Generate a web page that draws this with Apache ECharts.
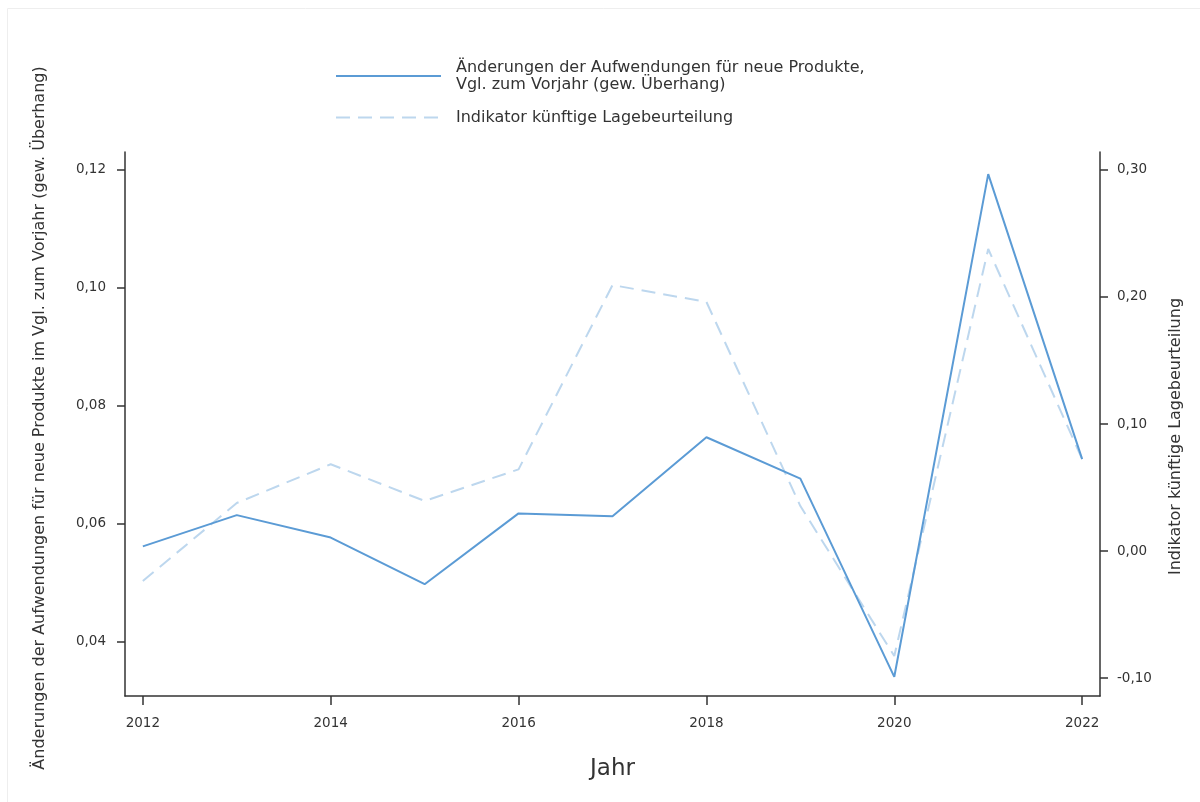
<!DOCTYPE html>
<html>
<head>
<meta charset="utf-8">
<script src="https://cdn.jsdelivr.net/npm/echarts@6/dist/echarts.min.js"></script>
<style>
html,body{margin:0;padding:0;background:#fff;}
#chart{width:1200px;height:802px;}
</style>
</head>
<body>
<div id="chart"></div>
<script>
const years = [2012, 2013, 2014, 2015, 2016, 2017, 2018, 2019, 2020, 2021, 2022];
const aufwendungen = [0.0562, 0.0615, 0.0577, 0.0498, 0.0618, 0.0613, 0.0747, 0.0677, 0.0341, 0.1193, 0.0710];
const indikator = [-0.0236, 0.0378, 0.0683, 0.0394, 0.0643, 0.2094, 0.1961, 0.0354, -0.0827, 0.2378, 0.0724];
const xTicks = [2012, 2014, 2016, 2018, 2020, 2022];
const leftTicks = [0.04, 0.06, 0.08, 0.10, 0.12];
const rightTicks = [-0.10, 0.00, 0.10, 0.20, 0.30];

const seriesNames = [
  'Änderungen der Aufwendungen für neue Produkte,\nVgl. zum Vorjahr (gew. Überhang)',
  'Indikator künftige Lagebeurteilung'
];
const leftName = 'Änderungen der Aufwendungen für neue Produkte im Vgl. zum Vorjahr (gew. Überhang)';
const rightName = 'Indikator künftige Lagebeurteilung';
const xName = 'Jahr';

const FONT = 'DejaVu Sans';
const TXT = '#333333';
const fmt = v => v.toFixed(2).replace('.', ',');

const chart = echarts.init(document.getElementById('chart'), null, {renderer: 'canvas'});
chart.setOption({
  animation: false,
  backgroundColor: '#ffffff',
  textStyle: {fontFamily: FONT, color: TXT},
  graphic: [
    {type: 'line', shape: {x1: 7.5, y1: 8.5, x2: 1200, y2: 8.5}, style: {stroke: '#eeeeee', lineWidth: 1}, silent: true},
    {type: 'line', shape: {x1: 7.5, y1: 8.5, x2: 7.5, y2: 802}, style: {stroke: '#eeeeee', lineWidth: 1}, silent: true}
  ],
  legend: {
    orient: 'vertical',
    left: 330,
    top: 54,
    itemWidth: 105,
    itemHeight: 14,
    itemGap: 16,
    itemStyle: {opacity: 0},
    textStyle: {fontFamily: FONT, fontSize: 16, color: TXT, lineHeight: 17, padding: [0, 0, 0, 10]},
    data: seriesNames
  },
  grid: {left: 125, right: 100, top: 152, bottom: 106, containLabel: false},
  xAxis: {
    type: 'value',
    min: 2011.81,
    max: 2022.19,
    name: xName,
    nameLocation: 'middle',
    nameGap: 62,
    nameTextStyle: {fontFamily: FONT, fontSize: 23, color: TXT},
    axisLine: {show: true, onZero: false, lineStyle: {color: '#333', width: 1.5}},
    axisTick: {show: true, length: 9, customValues: xTicks, lineStyle: {color: '#333', width: 1.5}},
    axisLabel: {customValues: xTicks, formatter: v => String(v), fontFamily: FONT, fontSize: 13.5, color: TXT, margin: 20},
    splitLine: {show: false}
  },
  yAxis: [
    {
      type: 'value',
      position: 'left',
      min: 0.030847,
      max: 0.12305,
      name: leftName,
      nameLocation: 'middle',
      nameRotate: 90,
      nameGap: 77,
      nameTextStyle: {fontFamily: FONT, fontSize: 16, color: TXT, padding: [0, 0, 0, 12]},
      axisLine: {show: true, onZero: false, lineStyle: {color: '#333', width: 1.5}},
      axisTick: {show: true, length: 8, customValues: leftTicks, lineStyle: {color: '#333', width: 1.5}},
      axisLabel: {customValues: leftTicks, formatter: fmt, fontFamily: FONT, fontSize: 13.5, color: TXT, margin: 19},
      splitLine: {show: false}
    },
    {
      type: 'value',
      position: 'right',
      min: -0.11417,
      max: 0.31417,
      name: rightName,
      nameLocation: 'middle',
      nameRotate: 90,
      nameGap: 68,
      nameTextStyle: {fontFamily: FONT, fontSize: 16, color: TXT, padding: [0, 25, 0, 0]},
      axisLine: {show: true, onZero: false, lineStyle: {color: '#333', width: 1.5}},
      axisTick: {show: true, length: 8, customValues: rightTicks, lineStyle: {color: '#333', width: 1.5}},
      axisLabel: {customValues: rightTicks, formatter: fmt, fontFamily: FONT, fontSize: 13.5, color: TXT, margin: 17},
      splitLine: {show: false}
    }
  ],
  series: [
    {
      name: seriesNames[0],
      type: 'line',
      yAxisIndex: 0,
      symbol: 'none',
      data: years.map((y, i) => [y, aufwendungen[i]]),
      lineStyle: {color: '#5b9bd5', width: 2},
      itemStyle: {color: '#5b9bd5'},
      z: 3
    },
    {
      name: seriesNames[1],
      type: 'line',
      yAxisIndex: 1,
      symbol: 'none',
      data: years.map((y, i) => [y, indikator[i]]),
      lineStyle: {color: '#bdd7ee', width: 2, type: [14, 8]},
      itemStyle: {color: '#bdd7ee'},
      z: 2
    }
  ]
});
</script>
</body>
</html>
